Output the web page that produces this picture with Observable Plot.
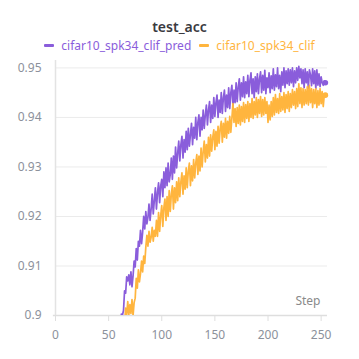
<!DOCTYPE html>
<html>
<head>
<meta charset="utf-8">
<script src="https://cdn.jsdelivr.net/npm/d3@7"></script>
<script src="https://cdn.jsdelivr.net/npm/@observablehq/plot@0.6"></script>
<style>
  body { margin: 0; background: #fff; font-family: "Noto Sans", sans-serif; }
  #wrap { width: 359px; height: 359px; overflow: hidden; }
  #title { height: 36px; box-sizing: border-box; padding-top: 18px; line-height: 18px; text-align: center; font-size: 14px; font-weight: 600; color: #3a3a3f; }
  #legend { height: 20px; line-height: 20px; text-align: center; font-size: 12px; white-space: nowrap; }
  .lg { display: inline-block; margin: 0 4px; }
  .sw { display: inline-block; width: 10px; height: 3px; border-radius: 1px; vertical-align: middle; margin-right: 7px; position: relative; top: -1px; }
</style>
</head>
<body>
<div id="wrap">
  <div id="title"></div>
  <div id="legend"></div>
  <div id="chart"></div>
</div>
<script>
const chartTitle = "test_acc";
const xLabel = "Step";
const seriesNames = ["cifar10_spk34_clif_pred", "cifar10_spk34_clif"];
const seriesColors = ["#8a5ddb", "#ffb53e"];
const xTicks = [0, 50, 100, 150, 200, 250];
const yTicks = [0.9, 0.91, 0.92, 0.93, 0.94, 0.95];

const predStart = 61;
const predValues = [
  0.8970, 0.9003, 0.9001, 0.9010, 0.9050, 0.9045, 0.9078, 0.9070, 0.9082, 0.9062,
  0.9088, 0.9058, 0.9080, 0.9110, 0.9098, 0.9135, 0.9112, 0.9150, 0.9140, 0.9172,
  0.9145, 0.9168, 0.9200, 0.9175, 0.9210, 0.9185, 0.9198, 0.9225, 0.9192, 0.9215,
  0.9245, 0.9205, 0.9232, 0.9258, 0.9215, 0.9248, 0.9268, 0.9228, 0.9262, 0.9275,
  0.9240, 0.9290, 0.9258, 0.9298, 0.9262, 0.9308, 0.9270, 0.9285, 0.9318, 0.9275,
  0.9322, 0.9288, 0.9340, 0.9298, 0.9328, 0.9352, 0.9312, 0.9345, 0.9362, 0.9318,
  0.9355, 0.9330, 0.9372, 0.9335, 0.9378, 0.9342, 0.9365, 0.9388, 0.9345, 0.9380,
  0.9358, 0.9400, 0.9355, 0.9390, 0.9405, 0.9362, 0.9400, 0.9375, 0.9415, 0.9378,
  0.9405, 0.9425, 0.9385, 0.9415, 0.9432, 0.9390, 0.9425, 0.9398, 0.9440, 0.9402,
  0.9430, 0.9445, 0.9400, 0.9435, 0.9410, 0.9450, 0.9408, 0.9440, 0.9455, 0.9412,
  0.9445, 0.9420, 0.9460, 0.9418, 0.9450, 0.9465, 0.9422, 0.9455, 0.9430, 0.9470,
  0.9432, 0.9462, 0.9478, 0.9435, 0.9470, 0.9442, 0.9482, 0.9440, 0.9472, 0.9448,
  0.9485, 0.9442, 0.9475, 0.9490, 0.9448, 0.9478, 0.9440, 0.9482, 0.9452, 0.9488,
  0.9448, 0.9478, 0.9492, 0.9450, 0.9485, 0.9455, 0.9495, 0.9448, 0.9480, 0.9460,
  0.9490, 0.9450, 0.9484, 0.9458, 0.9498, 0.9455, 0.9486, 0.9462, 0.9500, 0.9458,
  0.9485, 0.9452, 0.9492, 0.9465, 0.9500, 0.9460, 0.9494, 0.9468, 0.9498, 0.9465,
  0.9496, 0.9470, 0.9500, 0.9462, 0.9494, 0.9470, 0.9500, 0.9475, 0.9503, 0.9480,
  0.9498, 0.9468, 0.9496, 0.9460, 0.9498, 0.9470, 0.9492, 0.9458, 0.9496, 0.9486,
  0.9464, 0.9498, 0.9468, 0.9494, 0.9458, 0.9496, 0.9465, 0.9488, 0.9462, 0.9482,
  0.9470, 0.9465, 0.9474, 0.9470
];

const clifStart = 65;
const clifValues = [
  0.8980, 0.9015, 0.9002, 0.9028, 0.9001, 0.9022, 0.9004, 0.9032, 0.9000, 0.9026,
  0.9035, 0.9075, 0.9055, 0.9092, 0.9068, 0.9085, 0.9110, 0.9088, 0.9120, 0.9105,
  0.9138, 0.9162, 0.9140, 0.9170, 0.9148, 0.9158, 0.9178, 0.9150, 0.9172, 0.9160,
  0.9192, 0.9160, 0.9208, 0.9170, 0.9202, 0.9222, 0.9180, 0.9218, 0.9235, 0.9192,
  0.9240, 0.9200, 0.9252, 0.9210, 0.9245, 0.9262, 0.9215, 0.9258, 0.9228, 0.9270,
  0.9232, 0.9278, 0.9240, 0.9270, 0.9288, 0.9245, 0.9282, 0.9255, 0.9298, 0.9258,
  0.9292, 0.9308, 0.9262, 0.9302, 0.9272, 0.9315, 0.9278, 0.9308, 0.9325, 0.9285,
  0.9322, 0.9292, 0.9338, 0.9300, 0.9332, 0.9352, 0.9310, 0.9345, 0.9318, 0.9360,
  0.9322, 0.9365, 0.9332, 0.9360, 0.9375, 0.9335, 0.9372, 0.9342, 0.9382, 0.9348,
  0.9378, 0.9392, 0.9350, 0.9388, 0.9360, 0.9398, 0.9358, 0.9392, 0.9368, 0.9402,
  0.9370, 0.9398, 0.9428, 0.9390, 0.9418, 0.9382, 0.9420, 0.9388, 0.9425, 0.9385,
  0.9422, 0.9392, 0.9430, 0.9390, 0.9426, 0.9398, 0.9432, 0.9392, 0.9428, 0.9400,
  0.9438, 0.9398, 0.9432, 0.9405, 0.9440, 0.9400, 0.9436, 0.9408, 0.9442, 0.9402,
  0.9436, 0.9405, 0.9440, 0.9408, 0.9432, 0.9390, 0.9425, 0.9395, 0.9432, 0.9402,
  0.9440, 0.9405, 0.9446, 0.9410, 0.9438, 0.9408, 0.9448, 0.9412, 0.9442, 0.9415,
  0.9450, 0.9410, 0.9446, 0.9418, 0.9452, 0.9412, 0.9448, 0.9420, 0.9456, 0.9425,
  0.9452, 0.9418, 0.9458, 0.9422, 0.9468, 0.9428, 0.9460, 0.9420, 0.9458, 0.9425,
  0.9456, 0.9428, 0.9462, 0.9425, 0.9465, 0.9430, 0.9458, 0.9420, 0.9456, 0.9428,
  0.9458, 0.9420, 0.9454, 0.9425, 0.9458, 0.9428, 0.9452, 0.9422, 0.9446, 0.9445
];

const rows = [];
predValues.forEach((v, i) => rows.push({series: seriesNames[0], step: predStart + i, value: v}));
clifValues.forEach((v, i) => rows.push({series: seriesNames[1], step: clifStart + i, value: v}));
const lastPoints = [
  {series: seriesNames[0], step: predStart + predValues.length - 1, value: predValues[predValues.length - 1]},
  {series: seriesNames[1], step: clifStart + clifValues.length - 1, value: clifValues[clifValues.length - 1]}
];

document.getElementById("title").textContent = chartTitle;
const legend = document.getElementById("legend");
seriesNames.forEach((name, i) => {
  const s = document.createElement("span");
  s.className = "lg";
  s.style.color = seriesColors[i];
  s.innerHTML = `<span class="sw" style="background:${seriesColors[i]}"></span>`;
  s.appendChild(document.createTextNode(name));
  legend.appendChild(s);
});

const tickColor = "#8c919b";
const chart = Plot.plot({
  width: 359,
  height: 303,
  marginLeft: 55,
  marginRight: 32,
  marginTop: 4,
  marginBottom: 44,
  style: {fontFamily: "Noto Sans, sans-serif", fontSize: "12px", color: tickColor, background: "#fff"},
  x: {domain: [0, 256]},
  y: {domain: [0.9, 0.9515]},
  color: {domain: seriesNames, range: seriesColors},
  marks: [
    Plot.gridY(yTicks.filter(t => t > 0.9), {stroke: "#ebebeb", strokeOpacity: 1, strokeWidth: 1}),
    Plot.ruleX([0], {stroke: "#e3e3e3", strokeWidth: 1.5}),
    Plot.ruleY([0.9], {stroke: "#dedede", strokeWidth: 1.5, x1: -2, x2: 256}),
    Plot.axisY({ticks: yTicks, tickSize: 0, tickPadding: 14, tickFormat: d => String(+d.toFixed(2)), label: null, fill: tickColor}),
    Plot.axisX({ticks: xTicks, tickSize: 6, tickPadding: 9, stroke: "#dedede", label: null, fill: tickColor, tickFormat: d => String(d)}),
    Plot.text([xLabel], {frameAnchor: "bottom-right", text: d => d, textAnchor: "end", dx: -7, dy: -11, fill: "#8a8a8a", fontSize: 12}),
    Plot.line(rows, {x: "step", y: "value", z: "series", stroke: "series", strokeWidth: 1.7, clip: true, curve: "linear"}),
    Plot.dot(lastPoints, {x: "step", y: "value", fill: "series", r: 2.8, stroke: null})
  ]
});
document.getElementById("chart").appendChild(chart);
</script>
</body>
</html>
